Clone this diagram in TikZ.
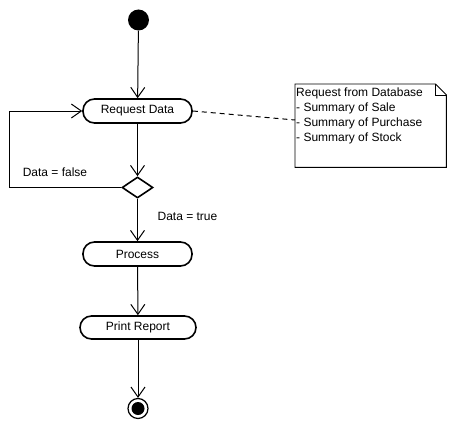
\documentclass[tikz,border=0pt]{standalone}
\usepackage{fontspec}
\setmainfont{Liberation Sans}
\usetikzlibrary{arrows.meta,shapes.geometric,calc}
\begin{document}
\begin{tikzpicture}[x=1pt,y=-1pt,
  font=\fontsize{12}{15}\selectfont,
  act/.style={draw,line width=1.6pt,rounded corners=11.5pt,minimum height=24pt,inner sep=0pt},
  conn/.style={line width=1pt,-{Straight Barb[length=10pt,width=14pt,line width=1pt]}},
  lbl/.style={inner sep=0pt}]
\useasboundingbox (0,0) rectangle (455,428);
\node[circle,fill=black,minimum size=21pt,inner sep=0pt] (init) at (138.5,20) {};
\node[act,minimum width=109pt] (rd) at (137.5,111) {Request Data};
\node[diamond,draw,line width=1.6pt,minimum width=31pt,minimum height=21pt,inner sep=0pt,aspect=1.5] (dec) at (137.5,187.5) {};
\node[act,minimum width=109pt] (proc) at (137.5,254) {Process};
\node[act,minimum width=116pt,minimum height=23pt] (pr) at (138,327.5) {Print Report};
\node[circle,draw,line width=1.2pt,minimum size=20pt,inner sep=0pt] (fin) at (138,408.5) {};
\node[circle,fill=black,minimum size=13pt,inner sep=0pt] (fini) at (fin.center) {};

\node[rectangle,minimum width=151pt,minimum height=83pt,anchor=north west,inner sep=0pt] (note) at (295,84) {};
\draw[line width=0.9pt] (note.north west) -- ([xshift=-11pt]note.north east) -- ([yshift=-11pt]note.north east) -- (note.south east) -- (note.south west) -- cycle;
\draw[line width=0.9pt] ([xshift=-11pt]note.north east) |- ([yshift=-11pt]note.north east);
\node[anchor=north west,align=left,inner xsep=1pt,inner ysep=4pt] (notetxt) at (note.north west) {Request from Database\\- Summary of Sale\\- Summary of Purchase\\- Summary of Stock};

\coordinate (nl) at ($(note.north west)+(0,36)$);
\coordinate (lp) at ($(rd.west)+(-73,0)$);
\draw[line width=1pt,dash pattern=on 5pt off 4pt] (rd.east) -- (nl);

\draw[conn] (init) -- (rd);
\draw[conn] (rd) -- (dec);
\draw[conn] (dec.west) -| (lp) -- (rd.west);
\draw[conn] (dec) -- (proc);
\draw[conn] (proc) -- (pr);
\draw[conn] (pr) -- (fin);

\node[lbl] (lf) at (55,172) {Data = false};
\node[lbl] (lt) at (187.5,216) {Data = true};
\end{tikzpicture}
\end{document}
